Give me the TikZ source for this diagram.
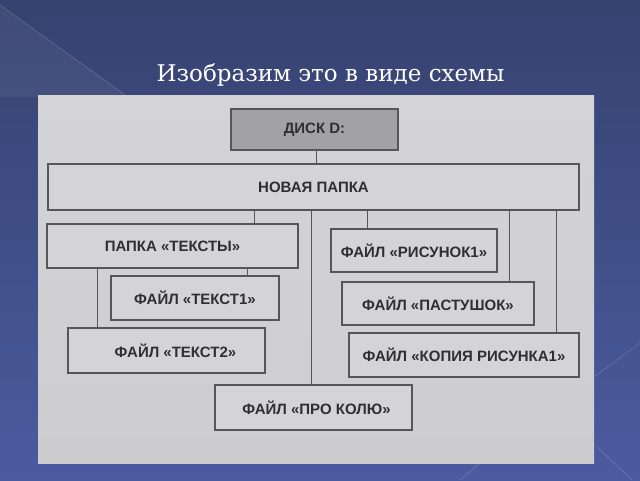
\documentclass[tikz,border=0pt]{standalone}
\usepackage{fontspec}
\setmainfont{DejaVu Serif}
\newfontfamily\boxfont{Liberation Sans}
\usetikzlibrary{calc}
\definecolor{bgtop}{HTML}{36426F}
\definecolor{bgbot}{HTML}{4B5B9F}
\definecolor{pagec}{HTML}{D4D4D7}
\definecolor{pagebot}{HTML}{CDCDD0}
\definecolor{boxline}{HTML}{55555A}
\definecolor{boxtext}{HTML}{2F2F32}
\definecolor{diskfill}{HTML}{A2A2A4}
\tikzset{
  fbox/.style={draw=boxline, line width=1.1pt, fill=pagec, inner sep=0pt,
    font=\boxfont\bfseries\fontsize{15}{17}\selectfont, text=boxtext},
  conn/.style={draw=boxline, line width=1pt},
  deco/.style={draw=white, draw opacity=0.15, line width=0.8pt}
}
\begin{document}
\begin{tikzpicture}[x=1pt,y=-1pt]
\useasboundingbox (0,0) rectangle (640,480);
% background
\shade[top color=bgtop, bottom color=bgbot] (0,0) rectangle (640,480);
\fill[white, opacity=0.05] (0,5) -- (128,97) -- (0,97) -- cycle;
\draw[deco] (0,5) -- (128,97);
\draw[deco] (594,377) -- (640,343);
\draw[deco] (597,447) -- (632,480);
\draw[deco] (460,480) -- (480,463);
% title
\node[anchor=base, text=white, font=\fontsize{23}{27}\selectfont] (title) at (330.5,81) {Изобразим это в виде схемы};
% page
\shade[top color=pagec, bottom color=pagebot] (38,95) rectangle (594,463);
% boxes
\node[fbox, fill=diskfill, minimum width=167pt, minimum height=41pt] (disk) at (314.5,129.5) {ДИСК D:};
\node[fbox, minimum width=531pt, minimum height=46pt] (nova) at (313.5,187) {НОВАЯ ПАПКА};
\node[fbox, minimum width=251pt, minimum height=44pt] (papka) at (172.5,246) {ПАПКА «ТЕКСТЫ»};
\node[fbox, minimum width=166pt, minimum height=43pt] (ris) at (414,250.5) {ФАЙЛ «РИСУНОК1»};
\node[fbox, minimum width=168pt, minimum height=44pt] (t1) at (195,298) {ФАЙЛ «ТЕКСТ1»};
\node[fbox, minimum width=192pt, minimum height=43pt] (past) at (438,303.5) {ФАЙЛ «ПАСТУШОК»};
\node[fbox, minimum width=197pt, minimum height=45pt] (t2) at (166.5,350.5) {\hspace*{18pt}ФАЙЛ «ТЕКСТ2»};
\node[fbox, minimum width=230pt, minimum height=44pt] (kop) at (464,355) {ФАЙЛ «КОПИЯ РИСУНКА1»};
\node[fbox, minimum width=197pt, minimum height=45pt] (kol) at (313.5,407.5) {\hspace*{6pt}ФАЙЛ «ПРО КОЛЮ»};
% connectors
\draw[conn] ([xshift=1.5]disk.south) -- ([xshift=1.5]disk.south |- nova.north);
\draw[conn] ([xshift=81.5]papka.north) -- ([xshift=81.5]papka.north |- nova.south);
\draw[conn] ([xshift=-2.5]kol.north) -- ([xshift=-2.5]kol.north |- nova.south);
\draw[conn] ([xshift=-47]ris.north) -- ([xshift=-47]ris.north |- nova.south);
\draw[conn] ([xshift=71]past.north) -- ([xshift=71]past.north |- nova.south);
\draw[conn] ([xshift=92]kop.north) -- ([xshift=92]kop.north |- nova.south);
\draw[conn] ([xshift=52]t1.north) -- ([xshift=52]t1.north |- papka.south);
\draw[conn] ([xshift=-69.5]t2.north) -- ([xshift=-69.5]t2.north |- papka.south);
\end{tikzpicture}
\end{document}
